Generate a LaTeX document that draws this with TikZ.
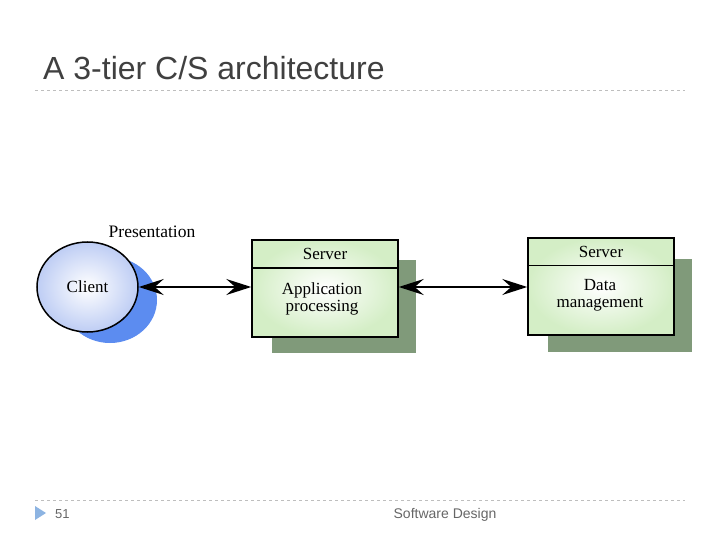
\documentclass[tikz,border=0pt]{standalone}
\usepackage{fontspec}
\setmainfont{Liberation Serif}
\newfontfamily\slidefont{Liberation Sans}
\usetikzlibrary{arrows.meta,shapes.geometric}
\definecolor{titlegray}{RGB}{64,64,64}
\definecolor{rulegray}{RGB}{190,190,190}
\definecolor{clientblue}{RGB}{190,205,244}
\definecolor{shadowblue}{RGB}{92,140,240}
\definecolor{boxgreen}{RGB}{212,238,198}
\definecolor{shadowgreen}{RGB}{128,154,122}
\definecolor{markblue}{RGB}{141,180,226}
\begin{document}
\begin{tikzpicture}[x=1pt,y=-1pt,
  rulebar/.style={draw=rulegray,dashed,line width=.8pt},
  srvbox/.style={draw,line width=1.5pt,inner color=white,outer color=boxgreen,minimum width=146pt,minimum height=97pt,inner sep=0pt},
  srvshadow/.style={fill=shadowgreen,inner sep=0pt,minimum width=144pt,minimum height=93pt},
  hdr/.style={inner sep=0pt,minimum height=28pt,font=\fontsize{17}{19}\selectfont},
  body/.style={align=center,font=\fontsize{17}{17}\selectfont},
  link/.style={line width=1.4pt,{Stealth[length=25pt,width=16pt,inset=9pt]}-{Stealth[length=25pt,width=16pt,inset=9pt]}}]
\useasboundingbox (0,0) rectangle (720,540);

% slide frame
\node[anchor=base west,text=titlegray,inner sep=0pt,font=\slidefont\fontsize{32}{36}\selectfont] (title) at (43,80) {A 3-tier C/S architecture};
\coordinate (topl) at (35,90);
\coordinate (topr) at (685,90);
\draw[rulebar] (topl) -- (topr);
\coordinate (botl) at (35,500);
\coordinate (botr) at (685,500);
\draw[rulebar] (botl) -- (botr);
\fill[markblue] (35,506) -- (46,513) -- (35,520) -- cycle;
\node[anchor=base west,text=titlegray!80,inner sep=0pt,font=\slidefont\fontsize{13}{15}\selectfont] (pageno) at (55,518) {51};
\node[anchor=base,text=titlegray!80,inner sep=0pt,font=\slidefont\fontsize{14}{16}\selectfont] (footer) at (445,518) {Software Design};

% presentation tier
\node[font=\fontsize{17.5}{19}\selectfont] (pres) at (152,232) {Presentation};
\node[ellipse,fill=shadowblue,minimum width=94pt,minimum height=86pt,inner sep=0pt] (clientsh) at (110,300) {};
\node[ellipse,draw,line width=1.5pt,inner color=white,outer color=clientblue,minimum width=101pt,minimum height=90pt,inner sep=0pt,font=\fontsize{17}{19}\selectfont] (client) at (87.5,287) {Client};

% application server
\node[srvshadow] (appsh) at (344,306.5) {};
\node[srvbox] (app) at (325,288.5) {};
\node[hdr] (apphead) at (325,254) {Server};
\draw[line width=1.5pt] (app.west |- apphead.south) -- (app.east |- apphead.south);
\node[body] (apptext) at (322,299) {Application\\processing};

% data server
\node[srvshadow] (datash) at (620,305) {};
\node[srvbox] (data) at (601,286.5) {};
\node[hdr] (datahead) at (601,251.5) {Server};
\draw[line width=1.5pt] (data.west |- datahead.south) -- (data.east |- datahead.south);
\node[body] (datatext) at (600,295) {Data\\management};

\draw[link] (client.east) -- (app.west |- client.east);
\draw[link] (app.east |- client.east) -- (data.west |- client.east);
\end{tikzpicture}
\end{document}
